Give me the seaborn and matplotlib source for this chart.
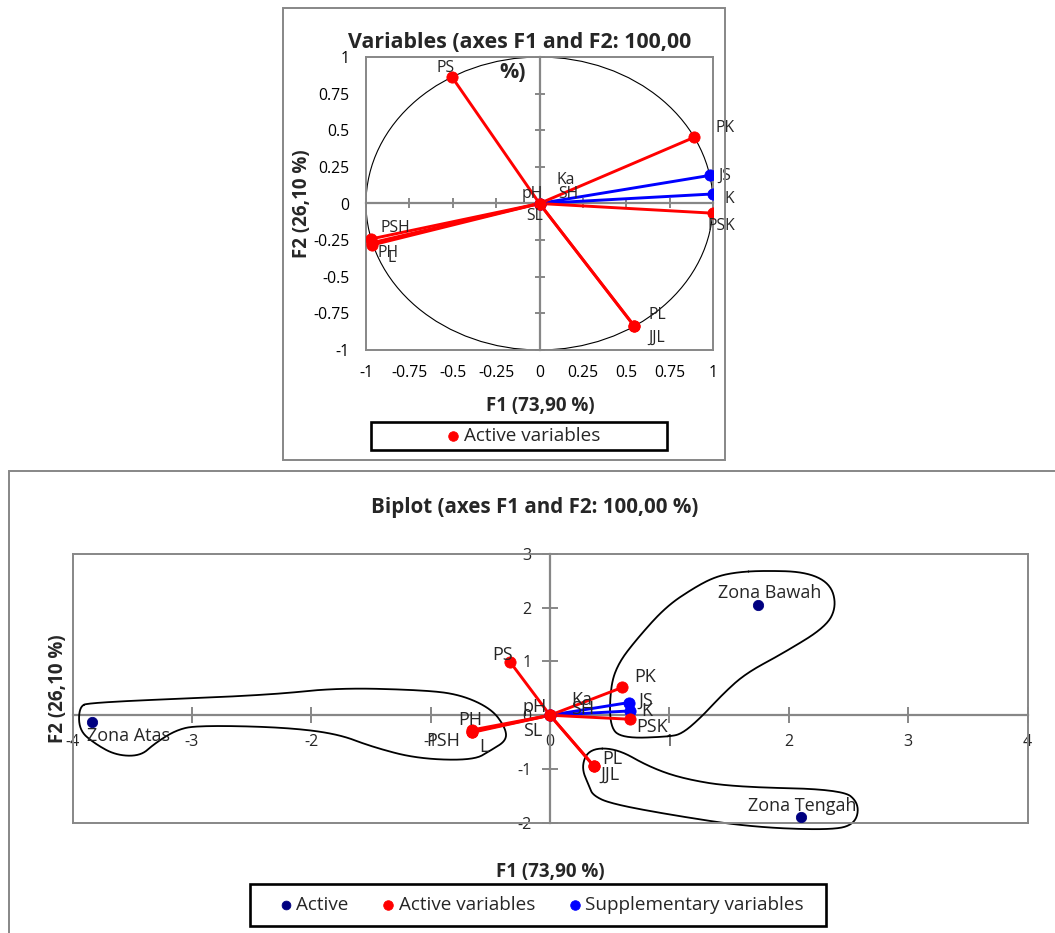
import numpy as np
import pandas as pd
import matplotlib
matplotlib.use("Agg")
import matplotlib.pyplot as plt
import seaborn as sns
from matplotlib.patches import Rectangle, Circle

sns.set_theme(style="white")
plt.rcParams['font.family'] = ['Open Sans', 'DejaVu Sans']

# ---------------- data ----------------
# correlation circle (top)
act_names = ['PS', 'PK', 'PSK', 'PL', 'JJL', 'PSH', 'PH', 'L', 'pH', 'SL']
act_f1 = [-0.506, 0.892, 0.998, 0.545, 0.545, -0.971, -0.964, -0.966, 0.0, 0.0]
act_f2 = [0.866, 0.452, -0.066, -0.834, -0.836, -0.242, -0.283, -0.268, 0.0, 0.0]
sup_names = ['JS', 'K', 'Ka', 'SH']
sup_f1 = [0.983, 0.998, 0.0, 0.0]
sup_f2 = [0.192, 0.065, 0.0, 0.0]

# biplot (bottom)
bi_act_f1 = [-0.334, 0.604, 0.673, 0.367, 0.367, -0.657, -0.652, -0.654, 0.0, 0.0]
bi_act_f2 = [0.99, 0.516, -0.075, -0.944, -0.946, -0.276, -0.32, -0.305, 0.0, 0.0]
bi_sup_f1 = [0.662, 0.673, 0.0, 0.0]
bi_sup_f2 = [0.236, 0.08, 0.0, 0.0]
obs_names = ['Zona Atas', 'Zona Bawah', 'Zona Tengah']
obs_f1 = [-3.84, 1.74, 2.10]
obs_f2 = [-0.12, 2.05, -1.90]

# hand-drawn group outlines (data units)
blob_atas = [(-3.945, 0.155), (-3.857, 0.24), (-2.374, 0.37), (-1.786, 0.51), (-1.081, 0.47),
             (-0.758, 0.39), (-0.493, 0.125), (-0.376, -0.22), (-0.362, -0.466),
             (-0.493, -0.65), (-0.641, -0.84), (-1.11, -0.81), (-1.49, -0.59), (-1.786, -0.34),
             (-2.256, -0.22), (-2.96, -0.19), (-3.137, -0.28), (-3.314, -0.53), (-3.431, -0.76),
             (-3.637, -0.745), (-3.813, -0.53), (-3.945, -0.28)]
blob_bawah = [(1.56, 2.66), (1.78, 2.69), (2.14, 2.67), (2.35, 2.45), (2.40, 2.02), (2.31, 1.64),
              (1.95, 1.15), (1.64, 0.78), (1.45, 0.40), (1.27, -0.03), (1.11, -0.34), (1.0, -0.40),
              (0.61, -0.43), (0.50, -0.22), (0.506, 0.53), (0.57, 0.96), (0.72, 1.40), (0.97, 2.02),
              (1.22, 2.39), (1.39, 2.58)]
blob_tengah = [(0.33, -0.62), (0.56, -0.62), (0.83, -0.96), (1.11, -1.18), (1.53, -1.335),
               (2.45, -1.38), (2.59, -1.64), (2.56, -2.02), (2.365, -2.14), (1.67, -2.08),
               (0.97, -1.84), (0.50, -1.64), (0.36, -1.49), (0.33, -1.335), (0.26, -0.96)]

RED = '#FF0000'
BLUE = '#0000FF'
NAVY = '#000080'
GRAY = '#878787'

W, H = 1055, 933
fig = plt.figure(figsize=(W / 100, H / 100), dpi=100)


def fx(px):
    return px / W


def fy(py):
    return 1 - py / H


def chaikin(pts, n=4):
    p = np.asarray(pts, float)
    for _ in range(n):
        q = np.roll(p, -1, axis=0)
        a = 0.75 * p + 0.25 * q
        b = 0.25 * p + 0.75 * q
        r = np.empty((2 * len(p), 2))
        r[0::2] = a
        r[1::2] = b
        p = r
    return np.vstack([p, p[:1]])


def vectors(ax, names, f1, f2, color):
    rows = []
    for n, a, b in zip(names, f1, f2):
        rows.append({'var': n, 'x': 0.0, 'y': 0.0})
        rows.append({'var': n, 'x': a, 'y': b})
    df = pd.DataFrame(rows)
    sns.lineplot(data=df, x='x', y='y', units='var', estimator=None, sort=False,
                 color=color, linewidth=2.1, ax=ax, zorder=3, legend=False)


def style_axes(ax):
    for s in ax.spines.values():
        s.set_color(GRAY)
        s.set_linewidth(1.4)
    ax.set_xlabel('')
    ax.set_ylabel('')


def style_sec(sec):
    for s in sec.spines.values():
        s.set_color(GRAY)
        s.set_linewidth(1.6)


# ================= TOP: correlation circle =================
fig.add_artist(Rectangle((fx(283), fy(460)), fx(725) - fx(283), fy(8) - fy(460),
                         transform=fig.transFigure, fill=False, edgecolor=GRAY, linewidth=1.4))

ax1 = fig.add_axes([fx(366), fy(350), fx(713) - fx(366), fy(57) - fy(350)])
ax1.set_xlim(-1, 1)
ax1.set_ylim(-1, 1)
ax1.add_patch(Circle((0, 0), 1, fill=False, edgecolor='black', linewidth=0.8, zorder=2))

vectors(ax1, sup_names, sup_f1, sup_f2, BLUE)
vectors(ax1, act_names, act_f1, act_f2, RED)
sns.scatterplot(x=sup_f1, y=sup_f2, color=BLUE, s=65, edgecolor=BLUE, ax=ax1, zorder=4)
sns.scatterplot(x=act_f1, y=act_f2, color=RED, s=65, edgecolor=RED, ax=ax1, zorder=5,
                label='Active variables')
h1, l1 = ax1.get_legend_handles_labels()
if ax1.get_legend() is not None:
    ax1.get_legend().remove()

ticks1 = np.arange(-1, 1.01, 0.25)
tlab1 = ['-1', '-0.75', '-0.5', '-0.25', '0', '0.25', '0.5', '0.75', '1']
ax1.set_xticks(ticks1, tlab1, fontsize=11.3)
ax1.set_yticks(ticks1, tlab1, fontsize=11.3)
ax1.tick_params(axis='both', length=0, colors='black')
ax1.tick_params(axis='x', pad=11)
ax1.tick_params(axis='y', pad=12)
style_axes(ax1)

sx1 = ax1.secondary_xaxis(0.5)
sx1.set_xticks(ticks1)
sx1.tick_params(direction='inout', length=7, width=1.4, color=GRAY, labelbottom=False,
                labeltop=False)
style_sec(sx1)
sy1 = ax1.secondary_yaxis(0.5)
sy1.set_yticks(ticks1)
sy1.tick_params(direction='inout', length=7, width=1.4, color=GRAY, labelleft=False,
                labelright=False)
style_sec(sy1)

lab_off_top = {'PS': (-6, -9), 'PK': (31, -9), 'PSK': (9, 13), 'PL': (23, -11),
               'JJL': (23, 12), 'PSH': (24, -11), 'PH': (16, 8), 'L': (20, 15),
               'pH': (-7, -10), 'SL': (-5, 12), 'JS': (15, 0), 'K': (17, 5),
               'Ka': (26, -23), 'SH': (29, -9)}
for n, a, b in list(zip(act_names, act_f1, act_f2)) + list(zip(sup_names, sup_f1, sup_f2)):
    dx, dy = lab_off_top[n]
    ax1.annotate(n, (a, b), xytext=(dx * 0.72, -dy * 0.72), textcoords='offset points',
                 ha='center', va='center', fontsize=11.3, zorder=6, annotation_clip=False)

fig.text(fx(520), fy(42), 'Variables (axes F1 and F2: 100,00', ha='center', va='center',
         fontsize=15.4, fontweight='bold')
fig.text(fx(513), fy(72), '%)', ha='center', va='center', fontsize=15.4, fontweight='bold')
fig.text(fx(302), fy(204), 'F2 (26,10 %)', ha='center', va='center', rotation=90,
         fontsize=13.5, fontweight='bold')
fig.text(fx(540), fy(406), 'F1 (73,90 %)', ha='center', va='center',
         fontsize=13.5, fontweight='bold')

fig.add_artist(Rectangle((fx(371), fy(450)), fx(667) - fx(371), fy(422) - fy(450),
                         transform=fig.transFigure, fill=False, edgecolor='black', linewidth=1.9))
fig.legend(h1, l1, loc='center', bbox_to_anchor=(fx(522), fy(436)), frameon=False,
           fontsize=13.6, handletextpad=0.05, handlelength=1.0, markerscale=0.85, borderpad=0)

# ================= BOTTOM: biplot =================
fig.add_artist(Rectangle((fx(9), fy(940)), fx(1070) - fx(9), fy(471) - fy(940),
                         transform=fig.transFigure, fill=False, edgecolor=GRAY, linewidth=1.4))

ax2 = fig.add_axes([fx(72.5), fy(822.7), fx(1027.5) - fx(72.5), fy(554) - fy(822.7)])
ax2.set_xlim(-4, 4)
ax2.set_ylim(-2, 3)

for blob in (blob_atas, blob_bawah, blob_tengah):
    c = chaikin(blob)
    ax2.plot(c[:, 0], c[:, 1], color='black', linewidth=1.3, zorder=2, clip_on=False)

vectors(ax2, sup_names, bi_sup_f1, bi_sup_f2, BLUE)
vectors(ax2, act_names, bi_act_f1, bi_act_f2, RED)
sns.scatterplot(x=obs_f1, y=obs_f2, color=NAVY, s=55, edgecolor=NAVY, ax=ax2, zorder=4,
                label='Active')
sns.scatterplot(x=bi_act_f1, y=bi_act_f2, color=RED, s=65, edgecolor=RED, ax=ax2, zorder=5,
                label='Active variables')
sns.scatterplot(x=bi_sup_f1, y=bi_sup_f2, color=BLUE, s=65, edgecolor=BLUE, ax=ax2, zorder=4,
                label='Supplementary variables')
h2, l2 = ax2.get_legend_handles_labels()
if ax2.get_legend() is not None:
    ax2.get_legend().remove()

ax2.set_xticks([])
ax2.set_yticks([])
style_axes(ax2)

xt2 = list(range(-4, 5))
yt2 = list(range(-2, 4))
sx2 = ax2.secondary_xaxis((0 - (-2)) / (3 - (-2)))
sx2.set_xticks(xt2, [str(v) for v in xt2], fontsize=11.5)
sx2.tick_params(direction='inout', length=11, width=1.4, color=GRAY, pad=8)
style_sec(sx2)
sy2 = ax2.secondary_yaxis(0.5)
sy2.set_alignment('left')
sy2.set_yticks(yt2, [str(v) for v in yt2], fontsize=11.5)
sy2.tick_params(direction='inout', length=11, width=1.4, color=GRAY, pad=8)
style_sec(sy2)

lab_off_bot = {'PS': (-8, -7), 'PK': (23, -10), 'PSK': (22, 8), 'PL': (19, -7),
               'JJL': (16, 9), 'PSH': (-28, 11), 'PH': (-2, -12), 'L': (12, 15),
               'pH': (-15, -8), 'SL': (-17, 16), 'JS': (17, -2), 'K': (16, 0),
               'Ka': (32, -15), 'SH': (33, -6),
               'Zona Atas': (37, 14), 'Zona Bawah': (12, -12), 'Zona Tengah': (2, -11)}
for n, a, b in (list(zip(act_names, bi_act_f1, bi_act_f2)) +
                list(zip(sup_names, bi_sup_f1, bi_sup_f2)) +
                list(zip(obs_names, obs_f1, obs_f2))):
    dx, dy = lab_off_bot[n]
    ax2.annotate(n, (a, b), xytext=(dx * 0.72, -dy * 0.72), textcoords='offset points',
                 ha='center', va='center', fontsize=13, zorder=6, annotation_clip=False)

fig.text(fx(535), fy(507), 'Biplot (axes F1 and F2: 100,00 %)', ha='center', va='center',
         fontsize=14.8, fontweight='bold')
fig.text(fx(58), fy(689), 'F2 (26,10 %)', ha='center', va='center', rotation=90,
         fontsize=13.5, fontweight='bold')
fig.text(fx(550), fy(872), 'F1 (73,90 %)', ha='center', va='center',
         fontsize=13.5, fontweight='bold')

fig.add_artist(Rectangle((fx(250), fy(926)), fx(826) - fx(250), fy(884) - fy(926),
                         transform=fig.transFigure, fill=False, edgecolor='black', linewidth=1.9))
fig.legend(h2, l2, loc='center', bbox_to_anchor=(fx(540), fy(905)), frameon=False, ncol=3,
           fontsize=13.6, handletextpad=0.05, handlelength=1.0, columnspacing=1.6,
           markerscale=0.85, borderpad=0)

fig.savefig('out.png', dpi=100, facecolor='white')
